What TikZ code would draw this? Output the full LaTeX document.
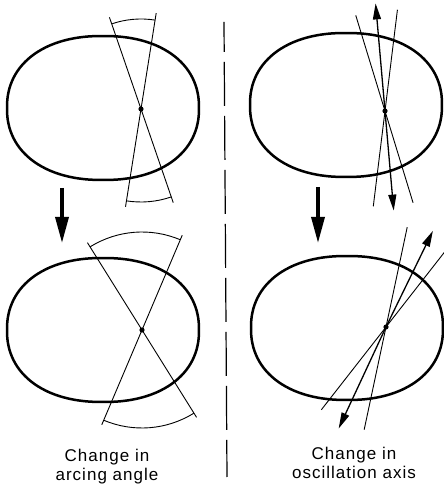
\documentclass[tikz,border=0pt]{standalone}
\usepackage{fontspec}
\newfontfamily\lblfont{Liberation Sans}[LetterSpace=6]
\usetikzlibrary{arrows.meta}
\tikzset{
  eggline/.style={line width=2.5pt},
  axisline/.style={line width=0.9pt},
  swingarc/.style={line width=0.9pt},
  oscarrow/.style={line width=1.3pt, -{Triangle[length=16pt,width=8pt]}},
  steparrow/.style={line width=3.4pt, -{Triangle[length=26pt,width=13pt]}},
  divider/.style={line width=1.2pt, dash pattern=on 44pt off 10pt, dash phase=14pt},
  caption/.style={font=\lblfont\fontsize{17}{19}\selectfont, align=center}
}
\newcommand\eggshape[1]{%
  \draw[eggline, shift={(#1)}] plot[variable=\t, domain=1.5:358.5, samples=120, smooth cycle]
    ({96*sign(cos(\t))*abs(cos(\t))^0.9}, {72*sign(sin(\t))*abs(sin(\t))^0.9});}

\begin{document}
\begin{tikzpicture}[x=1pt, y=1pt]
  \useasboundingbox (0,0) rectangle (444,485);
  % centres and pivots
  \coordinate (c1) at (103,377); \coordinate (p1) at (141,376);
  \coordinate (c2) at (346,380); \coordinate (p2) at (385,374);
  \coordinate (c3) at (103,155); \coordinate (p3) at (142,155);
  \coordinate (c4) at (347,157); \coordinate (p4) at (386,158);
  \eggshape{c1} \eggshape{c2} \eggshape{c3} \eggshape{c4}
  % arcing angle, before
  \draw[axisline] ([shift={(81:97)}]p1) -- ([shift={(261:99)}]p1);
  \draw[axisline] ([shift={(109:97)}]p1) -- ([shift={(289:99)}]p1);
  \draw[swingarc] ([shift={(81:90)}]p1) arc[start angle=81, end angle=109, radius=90];
  \draw[swingarc] ([shift={(261:93)}]p1) arc[start angle=261, end angle=289, radius=93];
  % arcing angle, after
  \draw[axisline] ([shift={(67:103)}]p3) -- ([shift={(247:103)}]p3);
  \draw[axisline] ([shift={(122:103)}]p3) -- ([shift={(302:103)}]p3);
  \draw[swingarc] ([shift={(67:98)}]p3) arc[start angle=67, end angle=122, radius=98];
  \draw[swingarc] ([shift={(247:98)}]p3) arc[start angle=247, end angle=302, radius=98];
  % oscillation axis, before
  \draw[axisline] ([shift={(107:100)}]p2) -- ([shift={(287:96)}]p2);
  \draw[axisline] ([shift={(83:102)}]p2) -- ([shift={(263:96)}]p2);
  \draw[oscarrow] (p2) -- ([shift={(95:108)}]p2);
  \draw[oscarrow] (p2) -- ([shift={(275:100)}]p2);
  % oscillation axis, after
  \draw[axisline] ([shift={(78:102)}]p4) -- ([shift={(258:105)}]p4);
  \draw[axisline] ([shift={(52:102)}]p4) -- ([shift={(232:105)}]p4);
  \draw[oscarrow] (p4) -- ([shift={(64:107)}]p4);
  \draw[oscarrow] (p4) -- ([shift={(245:112)}]p4);
  \foreach \p in {p1,p2,p3,p4} \fill (\p) circle (2.6);
  % steps
  \coordinate (s1) at (62,297); \coordinate (e1) at (62,242);
  \coordinate (s2) at (318,298); \coordinate (e2) at (318,242);
  \draw[steparrow] (s1) -- (e1);
  \draw[steparrow] (s2) -- (e2);
  \coordinate (d1) at (224,463); \coordinate (d2) at (227,8);
  \draw[divider] (d1) -- (d2);
  \node[caption] (capl) at (107,18.5) {Change in\\arcing angle};
  \node[caption] (capr) at (354,22.5) {Change in\\oscillation axis};
\end{tikzpicture}
\end{document}
